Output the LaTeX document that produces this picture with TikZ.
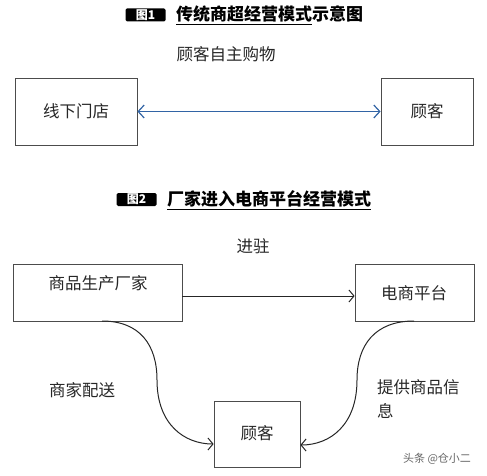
\documentclass[tikz,border=0pt]{standalone}
\usepackage{fontspec}
\setmainfont{Noto Sans CJK SC}
\usetikzlibrary{arrows.meta}
\tikzset{
  box/.style={draw=black!70, line width=0.8pt, inner sep=0pt},
  lbl/.style={font=\fontsize{16.5}{19}\selectfont, text=black!85, inner sep=0pt},
  tag/.style={fill=black, rounded corners=1.5pt, text=white, font=\fontsize{12}{12}\selectfont\bfseries, inner sep=0pt, minimum height=13pt, minimum width=40pt},
  ttl/.style={font=\fontsize{17}{19}\selectfont\bfseries, inner sep=0pt, anchor=west},
  conn/.style={line width=1pt, black!85, -{Straight Barb[length=5pt,width=12pt]}},
}
\begin{document}
\begin{tikzpicture}[x=1pt,y=-1pt]
\useasboundingbox (0,0) rectangle (487,476);
% Title 1
\node[tag] (t1) at (145.5,15) {图1};
\node[ttl] (h1) at (176,15.5) {\underline{传统商超经营模式}示意图};
\node[lbl] (own) at (226,54) {顾客自主购物};
% Diagram 1
\node[box, minimum width=122pt, minimum height=67pt] (store) at (76,111.5) {};
\node[lbl] at (store.center) {线下门店};
\node[box, minimum width=92pt, minimum height=67pt] (cust1) at (427,111.5) {};
\node[lbl] at (cust1.center) {顾客};
\draw[line width=1.2pt, color={rgb,255:red,50;green,100;blue,165}, {Straight Barb[length=6pt,width=13pt]}-{Straight Barb[length=6pt,width=13pt]}] (store.east) -- (cust1.west);
% Title 2
\node[tag] (t2) at (136.5,199.5) {图2};
\node[ttl] (h2) at (167,200) {\underline{厂家进入电商平台经营模式}};
\node[lbl] (enter) at (253,246) {进驻};
% Diagram 2
\node[box, minimum width=169pt, minimum height=57pt] (maker) at (97.5,292.5) {};
\node[lbl] at (98,283) {商品生产厂家};
\node[box, minimum width=119pt, minimum height=57pt] (plat) at (414.5,292.5) {};
\node[lbl] at (414,293) {电商平台};
\node[box, minimum width=86pt, minimum height=66pt] (cust2) at (257,434) {};
\node[lbl] at (257,433) {顾客};
\draw[conn] (maker.east |- 0,296) -- (plat.west |- 0,296);
\draw[conn] (102,321) .. controls (140,321) and (157,345) .. (157,380)
  .. controls (157,425) and (185,444) .. (cust2.west |- 0,444);
\draw[conn] (414,321) .. controls (375,321) and (357,345) .. (357,380)
  .. controls (357,425) and (330,445) .. (cust2.east |- 0,445);
\node[lbl] (deliv) at (82,390) {商家配送};
\node[lbl, anchor=north west, align=left, font=\fontsize{16.5}{24}\selectfont] (info) at (377,379) {提供商品信\\息};
\node[font=\fontsize{11}{12}\selectfont, text=black!60, inner sep=0pt] (wm) at (437,459) {头条 @仓小二};
\end{tikzpicture}
\end{document}
